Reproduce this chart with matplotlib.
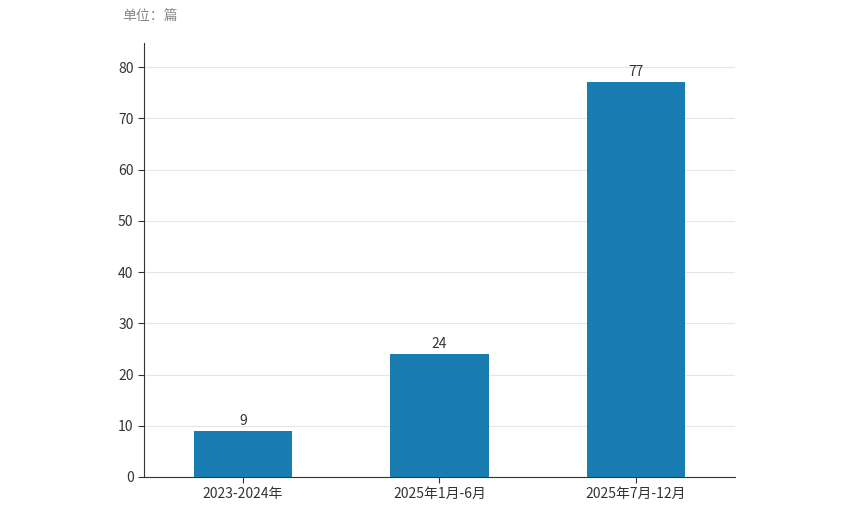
import matplotlib.pyplot as plt

plt.rcParams['font.family'] = ['Noto Sans CJK SC', 'DejaVu Sans']

categories = ['2023-2024年', '2025年1月-6月', '2025年7月-12月']
values = [9, 24, 77]

fig = plt.figure(figsize=(8.54, 5.08), dpi=100)
ax = fig.add_axes([144 / 854, 1 - 477 / 508, (735 - 144) / 854, (477 - 43) / 508])

x = list(range(len(categories)))
bars = ax.bar(x, values, width=0.5, color='#1a7db2', zorder=3)
for xi, v in zip(x, values):
    ax.text(xi, v + 0.6, str(v), ha='center', va='bottom', fontsize=10, color='#333333')

ax.set_xlim(-0.503, 2.503)
ax.set_ylim(0, 84.7)
ax.set_yticks(range(0, 81, 10))
ax.set_xticks(x)
ax.set_xticklabels(categories)
ax.tick_params(labelsize=10, colors='#333333', length=4)
ax.yaxis.grid(True, color='#e6e6e6', linewidth=0.8, zorder=0)
ax.spines['top'].set_visible(False)
ax.spines['right'].set_visible(False)
ax.spines['left'].set_color('#333333')
ax.spines['bottom'].set_color('#333333')

fig.text(122 / 854, 1 - 17 / 508, '单位：篇', fontsize=10, color='#888888', va='center')

fig.savefig('out.png', dpi=100)
